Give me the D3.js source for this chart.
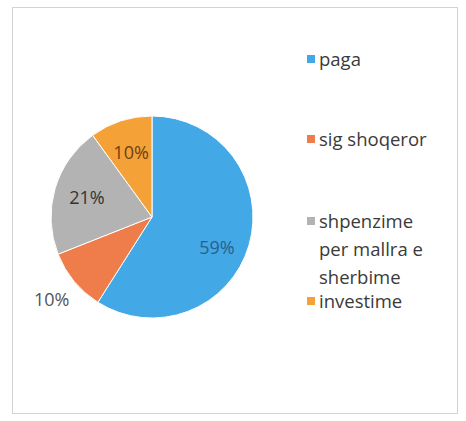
<!DOCTYPE html>
<html>
<head>
<meta charset="utf-8">
<script src="https://cdn.jsdelivr.net/npm/d3@7"></script>
<style>
  html, body { margin: 0; padding: 0; background: #fff; }
  svg { display: block; font-family: "Open Sans", "Liberation Sans", sans-serif; }
</style>
</head>
<body>
<svg id="chart" width="466" height="421"></svg>
<script>
// ---------- data ----------
const categories = ["paga", "sig shoqeror", "shpenzime per mallra e sherbime", "investime"];
const values = [59, 10, 21, 10];
const legendLines = [["paga"], ["sig shoqeror"], ["shpenzime", "per mallra e", "sherbime"], ["investime"]];
const colors = ["#42a8e6", "#ef7d4b", "#b3b3b3", "#f4a238"];
const labelColors = ["#2a5f8c", "#555555", "#333333", "#6e3f14"];

const svg = d3.select("#chart");

// frame
svg.append("rect")
  .attr("x", 12.5).attr("y", 7.5).attr("width", 445).attr("height", 406)
  .attr("fill", "none").attr("stroke", "#d2d2d2").attr("stroke-width", 1);

// ---------- pie ----------
const cx = 152, cy = 217, r = 101;
const pie = d3.pie().sort(null).value(d => d)(values);
const arc = d3.arc().innerRadius(0).outerRadius(r);
const g = svg.append("g").attr("transform", `translate(${cx},${cy})`);

g.selectAll("path").data(pie).join("path")
  .attr("d", arc)
  .attr("fill", (d, i) => colors[i])
  .attr("stroke", "#fff").attr("stroke-width", 1);

// labels: inside for most, outside for the small bottom-left slice
const labelArc = d3.arc().innerRadius(r * 0.67).outerRadius(r * 0.67);
const outerArc = d3.arc().innerRadius(r * 1.29).outerRadius(r * 1.29);
g.selectAll("text.lbl").data(pie).join("text")
  .attr("class", "lbl")
  .attr("transform", (d, i) => {
    const p = i === 1 ? outerArc.centroid(d) : labelArc.centroid(d);
    if (i === 0) p[1] += 12;
    return `translate(${p})`;
  })
  .attr("text-anchor", "middle")
  .attr("dy", "0.35em")
  .attr("font-size", 18)
  .attr("fill", (d, i) => labelColors[i])
  .text(d => `${d.value}%`);

// ---------- legend ----------
const legendY = [60, 140, 222, 302];
const lg = svg.append("g");
categories.forEach((c, i) => {
  const y0 = legendY[i];
  lg.append("rect")
    .attr("x", 307).attr("y", y0 - 5).attr("width", 8).attr("height", 8)
    .attr("fill", colors[i]);
  const t = lg.append("text")
    .attr("x", 319).attr("y", y0)
    .attr("font-size", 18.5)
    .attr("fill", "#3a3a3a");
  legendLines[i].forEach((line, j) => {
    t.append("tspan").attr("x", 319).attr("dy", j === 0 ? "0.35em" : 28).text(line);
  });
});
</script>
</body>
</html>
